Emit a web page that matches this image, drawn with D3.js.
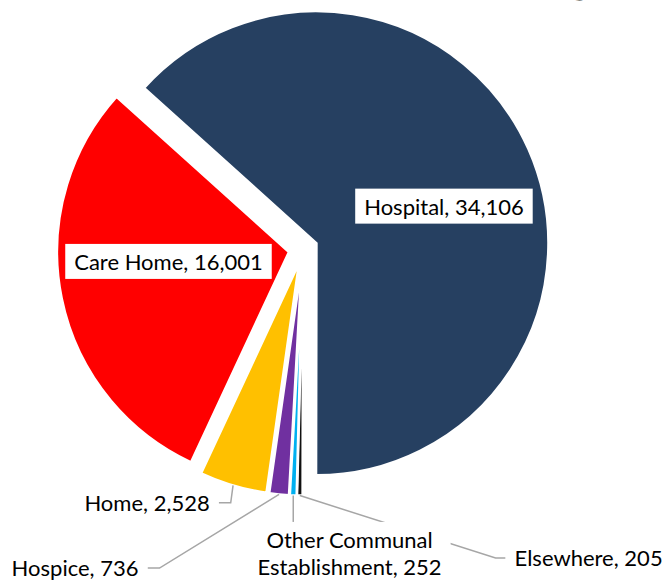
<!DOCTYPE html>
<html>
<head>
<meta charset="utf-8">
<script src="https://cdn.jsdelivr.net/npm/d3@7"></script>
<style>
  html, body { margin: 0; padding: 0; background: #fff; }
  svg { display: block; }
  .lbl { font-family: Lato, "Noto Sans", sans-serif; font-size: 22px; fill: #000; }
  .title { font-family: Lato, sans-serif; font-weight: bold; fill: #000; }
</style>
</head>
<body>
<div id="chart"></div>
<script>
// deaths by place of occurrence
const places = ['Hospital', 'Elsewhere', 'Other Communal Establishment', 'Hospice', 'Home', 'Care Home'];
const deaths = [34106, 205, 252, 736, 2528, 16001];
const sliceColours = ['#264061', '#111111', '#00b0f0', '#7030a0', '#ffc000', '#ff0000'];
const titleText = 'Deaths by Place of Death in England';

// where each label sits: inside (from slice tip) or outside (from arc edge) + offset
const labelAnchor = ['inner', 'outer', 'outer', 'outer', 'outer', 'inner'];
const labelOffset = [[127.5, -36.5], [288.8, 62.4], [56.3, 58.1], [-204, 73.6], [-86, 17.4], [-120.5, 10]];

const width = 663;
const height = 580;
const cx = 303.2;
const cy = 249.1;
const radius = 232;
const explode = 14.5;
const firstAngle = -48 * Math.PI / 180;

const data = places.map((p, i) => ({ place: p, value: deaths[i], colour: sliceColours[i] }));
const fmt = d3.format(',');

const svg = d3.select('#chart')
  .append('svg')
  .attr('width', width)
  .attr('height', height);

// title sits mostly above the picture, only descenders show
const title = svg.append('text')
  .attr('class', 'title')
  .attr('font-size', 36)
  .text(titleText);
const node = title.node();
const yIdx = titleText.indexOf('by') + 1;
const gIdx = titleText.indexOf('g');
const charMid = i => node.getStartPositionOfChar(i).x + node.getSubStringLength(i, 1) / 2;
const fs = 36 * 404 / (charMid(gIdx) - charMid(yIdx));
title.attr('font-size', fs);
title.attr('x', 176 - charMid(yIdx)).attr('y', -0.16 * fs);

const pie = d3.pie()
  .sort(null)
  .value(d => d.value)
  .startAngle(firstAngle)
  .endAngle(firstAngle + 2 * Math.PI);

const arc = d3.arc()
  .innerRadius(0)
  .outerRadius(radius);

const arcs = pie(data);
arcs.forEach(a => {
  a.mid = (a.startAngle + a.endAngle) / 2;
  a.vx = cx + explode * Math.sin(a.mid);
  a.vy = cy - explode * Math.cos(a.mid);
  a.ox = a.vx + radius * Math.sin(a.mid);
  a.oy = a.vy - radius * Math.cos(a.mid);
});

const slices = svg.append('g').attr('class', 'slices');
const leaders = svg.append('g').attr('class', 'leaders');
const labels = svg.append('g').attr('class', 'labels');

slices.selectAll('path')
  .data(arcs)
  .enter()
  .append('path')
  .attr('transform', d => `translate(${d.vx},${d.vy})`)
  .attr('d', arc)
  .attr('fill', d => d.data.colour)
  .attr('stroke', '#fff')
  .attr('stroke-width', 2.5)
  .attr('stroke-linejoin', 'miter');

const labelLines = d => {
  const txt = `${d.data.place}, ${fmt(d.data.value)}`;
  if (d.data.place.length > 20) {
    const words = d.data.place.split(' ');
    return [words.slice(0, 2).join(' '), `${words.slice(2).join(' ')}, ${fmt(d.data.value)}`];
  }
  return [txt];
};

const lineH = 27;
const padX = 9;
const padY = 6;

arcs.forEach((a, i) => {
  const isInner = labelAnchor[i] === 'inner';
  const ax = isInner ? a.vx : a.ox;
  const ay = isInner ? a.vy : a.oy;
  const lx = ax + labelOffset[i][0];
  const ly = ay + labelOffset[i][1];
  const lines = labelLines(a);

  const g = labels.append('g');
  const rect = g.append('rect').attr('fill', '#fff');
  const text = g.append('text')
    .attr('class', 'lbl')
    .attr('text-anchor', 'middle');
  lines.forEach((l, k) => {
    text.append('tspan')
      .attr('x', lx)
      .attr('y', ly + (k - (lines.length - 1) / 2) * lineH)
      .attr('dy', '0.36em')
      .text(l);
  });
  const bb = text.node().getBBox();
  const box = { x0: bb.x - padX, x1: bb.x + bb.width + padX, y0: bb.y - padY + 2, y1: bb.y + bb.height + padY - 2 };
  rect.attr('x', box.x0).attr('y', box.y0)
    .attr('width', box.x1 - box.x0).attr('height', box.y1 - box.y0);

  if (isInner) return;

  let pts;
  if (ax > box.x0 && ax < box.x1) {
    pts = [[ax, ay], [ax, box.y0]];
  } else if (lx < ax) {
    pts = [[ax, ay], [box.x1 + 12, ly], [box.x1, ly]];
  } else {
    pts = [[ax, ay], [box.x0 - 10, ly], [box.x0, ly]];
  }
  leaders.append('path')
    .attr('d', d3.line()(pts))
    .attr('fill', 'none')
    .attr('stroke', '#a6a6a6')
    .attr('stroke-width', 1.5);
});
</script>
</body>
</html>
